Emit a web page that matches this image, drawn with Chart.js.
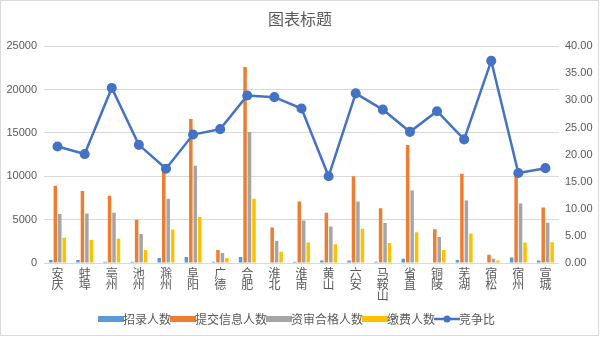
<!DOCTYPE html>
<html>
<head>
<meta charset="utf-8">
<script src="https://cdn.jsdelivr.net/npm/chart.js@4/dist/chart.umd.min.js"></script>
<style>
  html, body { margin: 0; padding: 0; background: #fff; }
  #wrap { width: 600px; height: 338px; position: relative; }
</style>
</head>
<body>
<div id="wrap"><canvas id="chart"></canvas></div>
<script>
const cities = ["安庆", "蚌埠", "亳州", "池州", "滁州", "阜阳", "广德", "合肥", "淮北", "淮南",
  "黄山", "六安", "马鞍山", "省直", "铜陵", "芜湖", "宿松", "宿州", "宣城"];

const recruited = [350, 350, 150, 150, 580, 700, 150, 700, 60, 150, 300, 300, 150, 500, 0, 350, 0, 620, 300];
const submitted = [8900, 8300, 7750, 5000, 10900, 16600, 1500, 22600, 4100, 7100, 5800, 10000, 6300, 13600, 3900, 10300, 950, 10500, 6400];
const qualified = [5650, 5700, 5800, 3350, 7400, 11200, 1150, 15100, 2550, 4900, 4200, 7100, 4600, 8350, 3000, 7200, 480, 6850, 4650];
const paid = [2900, 2650, 2800, 1500, 3850, 5300, 580, 7400, 1300, 2350, 2150, 3950, 2300, 3550, 1500, 3400, 280, 2350, 2400];
const ratio = [21.5, 20.1, 32.3, 21.8, 17.4, 23.7, 24.7, 30.9, 30.6, 28.5, 16.0, 31.3, 28.3, 24.2, 28.0, 22.8, 37.3, 16.6, 17.5];

const leftTicks = [0, 5000, 10000, 15000, 20000, 25000];
const rightTicks = [0, 5, 10, 15, 20, 25, 30, 35, 40];

const textColor = "#595959";
const gridColor = "#d9d9d9";
const cjk = "'Noto Sans CJK SC', 'Noto Sans', sans-serif";
const latin = "'Liberation Sans', Arial, sans-serif";

// legend swatches: wide flat boxes for bars, line with a dot for the ratio
function swatch(color, isLine) {
  const c = document.createElement("canvas");
  c.width = 26; c.height = 10;
  const g = c.getContext("2d");
  if (isLine) {
    g.strokeStyle = color; g.lineWidth = 2.5;
    g.beginPath(); g.moveTo(0, 5); g.lineTo(26, 5); g.stroke();
    g.fillStyle = color;
    g.beginPath(); g.arc(13, 5, 3.5, 0, Math.PI * 2); g.fill();
  } else {
    g.fillStyle = color;
    g.fillRect(0, 2, 26, 6);
  }
  return c;
}

const frame = {
  id: "frame",
  afterDraw(chart) {
    const ctx = chart.ctx;
    ctx.save();
    ctx.strokeStyle = gridColor;
    ctx.lineWidth = 1;
    ctx.strokeRect(0.5, 0.5, 598, 335);
    ctx.restore();
  }
};

const bar = (label, data, color) => ({
  type: "bar", label, data, backgroundColor: color, yAxisID: "y", order: 1,
  categoryPercentage: 0.66, barPercentage: 0.78
});

new Chart(document.getElementById("chart"), {
  data: {
    labels: cities.map(c => c.split("")),
    datasets: [
      bar("招录人数", recruited, "#5B9BD5"),
      bar("提交信息人数", submitted, "#ED7D31"),
      bar("资审合格人数", qualified, "#A5A5A5"),
      bar("缴费人数", paid, "#FFC000"),
      {
        type: "line", label: "竞争比", data: ratio, yAxisID: "y1", order: 0,
        borderColor: "#4472C4", backgroundColor: "#4472C4", borderWidth: 2.5,
        pointRadius: 3.8, pointBackgroundColor: "#4472C4", pointBorderColor: "#4472C4",
        tension: 0
      }
    ]
  },
  options: {
    responsive: true,
    maintainAspectRatio: false,
    animation: false,
    layout: { padding: { left: 0, right: 0, top: 0, bottom: 3 } },
    plugins: {
      tooltip: { enabled: false },
      title: {
        display: true, text: "图表标题", color: textColor,
        font: { family: cjk, size: 16, weight: "normal" },
        padding: { top: 9, bottom: 18 }
      },
      legend: {
        position: "bottom",
        labels: {
          color: textColor,
          font: { family: cjk, size: 12 },
          usePointStyle: true,
          boxWidth: 26, boxHeight: 10,
          padding: 6,
          sort: (a, b) => a.datasetIndex - b.datasetIndex,
          generateLabels(chart) {
            const items = Chart.defaults.plugins.legend.labels.generateLabels(chart);
            items.forEach(it => {
              const ds = chart.data.datasets[it.datasetIndex];
              it.pointStyle = swatch(ds.borderColor || ds.backgroundColor, ds.type === "line");
            });
            return items;
          }
        }
      }
    },
    scales: {
      x: {
        grid: { display: false },
        border: { display: false },
        ticks: {
          color: textColor, maxRotation: 0, autoSkip: false, padding: -3,
          font: { family: cjk, size: 12, lineHeight: 0.9 }
        },
        afterFit: s => { s.height = 44; }
      },
      y: {
        position: "left", min: 0, max: 25000,
        grid: { color: gridColor, drawTicks: false },
        border: { display: false },
        afterBuildTicks: s => { s.ticks = leftTicks.map(v => ({ value: v })); },
        ticks: { color: textColor, padding: 7, font: { family: latin, size: 11 }, callback: v => String(v) },
        afterFit: s => { s.width = 44; }
      },
      y1: {
        position: "right", min: 0, max: 40,
        grid: { display: false, drawTicks: false },
        border: { display: false },
        afterBuildTicks: s => { s.ticks = rightTicks.map(v => ({ value: v })); },
        ticks: {
          color: textColor, padding: 6,
          font: { family: latin, size: 11 },
          callback: v => Number(v).toFixed(2)
        },
        afterFit: s => { s.width = 41; }
      }
    }
  },
  plugins: [frame]
});
</script>
</body>
</html>
